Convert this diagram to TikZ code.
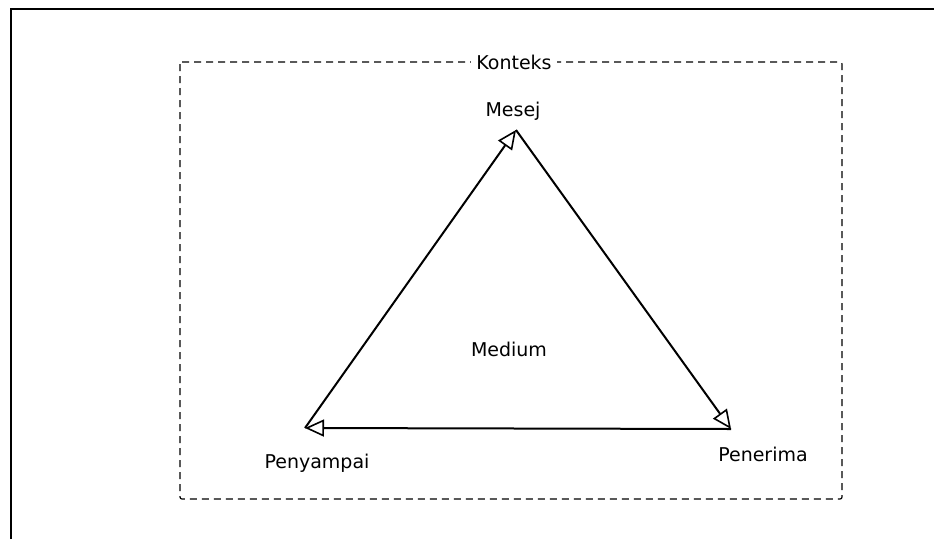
\documentclass[tikz,border=0pt]{standalone}
\usepackage{fontspec}
\setmainfont{DejaVu Sans}
\usetikzlibrary{arrows.meta}
\begin{document}
\begin{tikzpicture}[x=1pt,y=-1pt,
  lbl/.style={font=\fontsize{19}{23}\selectfont, inner sep=2pt},
  edge/.style={line width=2pt, -{Triangle[open, length=19pt, width=17pt, line width=1.6pt]}},
  frame/.style={line width=1.4pt},
  ctx/.style={dashed, dash pattern=on 7pt off 5pt, line width=1.2pt}]
\useasboundingbox (0,0) rectangle (934,539);
% outer frame (cut at right and bottom)
\coordinate (fa) at (11,539);
\coordinate (fb) at (11,9);
\coordinate (fc) at (934,9);
\draw[frame] (fa) -- (fb) -- (fc);
% context box
\coordinate (ctl) at (180,62);
\coordinate (cbr) at (842,499);
\draw[ctx, rounded corners=2pt] (ctl) rectangle (cbr);
\node[lbl, fill=white, inner xsep=5pt] (konteks) at (514,62) {Konteks};
% triangle vertices
\coordinate (top) at (516,130);
\coordinate (left) at (305,428);
\coordinate (right) at (731,429);
\draw[edge] (left) -- (top);
\draw[edge] (top) -- (right);
\draw[edge] (right) -- (left);
% labels
\node[lbl] (mesej) at (513,111) {Mesej};
\node[lbl] (medium) at (509,349) {Medium};
\node[lbl] (penyampai) at (317,463) {Penyampai};
\node[lbl] (penerima) at (763,454) {Penerima};
\end{tikzpicture}
\end{document}
